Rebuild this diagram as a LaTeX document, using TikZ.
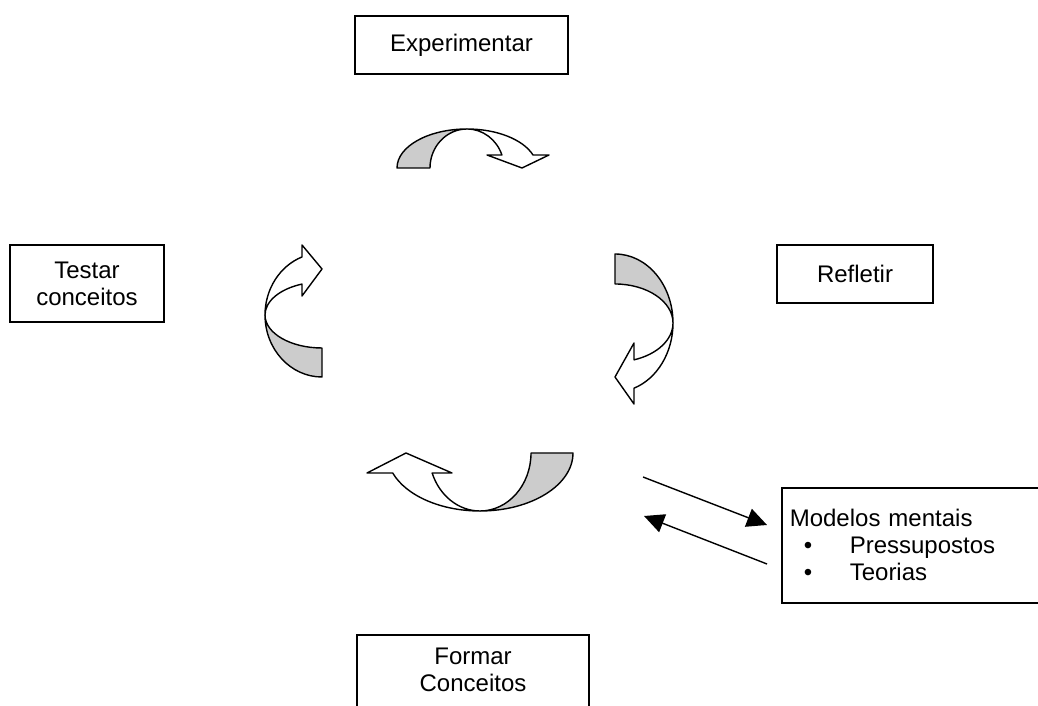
\documentclass[tikz,border=0pt]{standalone}
\usepackage{fontspec}
\setmainfont{Liberation Sans}
\usetikzlibrary{arrows.meta}
\definecolor{bandgray}{RGB}{204,204,204}
\tikzset{
  boxnode/.style={draw=black, line width=1.6pt, fill=white, align=center, inner sep=0pt},
  band/.style={draw=black, line width=1.4pt, line join=round},
  linkarrow/.style={line width=1.4pt, -{Triangle[length=20pt,width=19pt]}},
  every node/.style={font=\fontsize{24}{27}\selectfont}
}
\newcommand\cyclearrow[9]{%
  \begin{scope}[shift={#1}, rotate=#2]
    \pgfmathsetmacro\th{asin(#6/#5)}
    \filldraw[band, fill=bandgray] (-#3,0)
      arc[start angle=180, end angle=90, x radius=#3, y radius=#5]
      arc[start angle=90, end angle=180, x radius=#4, y radius=#5] -- cycle;
    \filldraw[band, fill=white] (0,#5)
      arc[start angle=90, end angle=\th, x radius=#3, y radius=#5]
      -- (#8,#6) -- (#9,0) -- (#7,#6) -- ({#4*cos(\th)},#6)
      arc[start angle=\th, end angle=90, x radius=#4, y radius=#5] -- cycle;
  \end{scope}}
\begin{document}
\begin{tikzpicture}[x=1pt, y=1pt]
\clip (0,0) rectangle (1038,706);
\fill[white] (0,0) rectangle (1038,706);

% boxes
\node[boxnode, minimum width=213pt, minimum height=58pt] (exp) at (461.5,661) {Experimentar};
\node[boxnode, minimum width=154pt, minimum height=77pt] (testar) at (87,422.5) {Testar\\conceitos};
\node[boxnode, minimum width=156pt, minimum height=58pt] (refletir) at (855,432) {Refletir};
\node[boxnode, minimum width=232pt, minimum height=90pt, anchor=north] (formar) at (473,72) {};
\node[align=center, inner sep=0pt] (formartext) at (473,36) {Formar\\Conceitos};
\node[boxnode, anchor=north west, minimum height=115pt, text width=264pt, inner xsep=8pt, align=left] (modelos) at (781,219)
  {Modelos mentais\\
   \makebox[60pt][l]{\hspace{14pt}\textbullet}Pressupostos\\
   \makebox[60pt][l]{\hspace{14pt}\textbullet}Teorias};

% cycle arrows
\cyclearrow{(467,538)}{0}{70}{37}{39}{13}{20}{82}{55}
\cyclearrow{(615,383)}{-90}{69}{39}{58}{19}{20}{81}{54}
\cyclearrow{(480,253)}{180}{93}{51}{58}{20}{28}{113}{74}
\cyclearrow{(322,391)}{90}{62}{33}{57}{20}{19}{70}{46}

% links to mental models
\coordinate (a1) at (643,229);
\coordinate (a2) at (767,181);
\coordinate (b1) at (767,142);
\coordinate (b2) at (644,190);
\draw[linkarrow] (a1) -- (a2);
\draw[linkarrow] (b1) -- (b2);
\end{tikzpicture}
\end{document}
